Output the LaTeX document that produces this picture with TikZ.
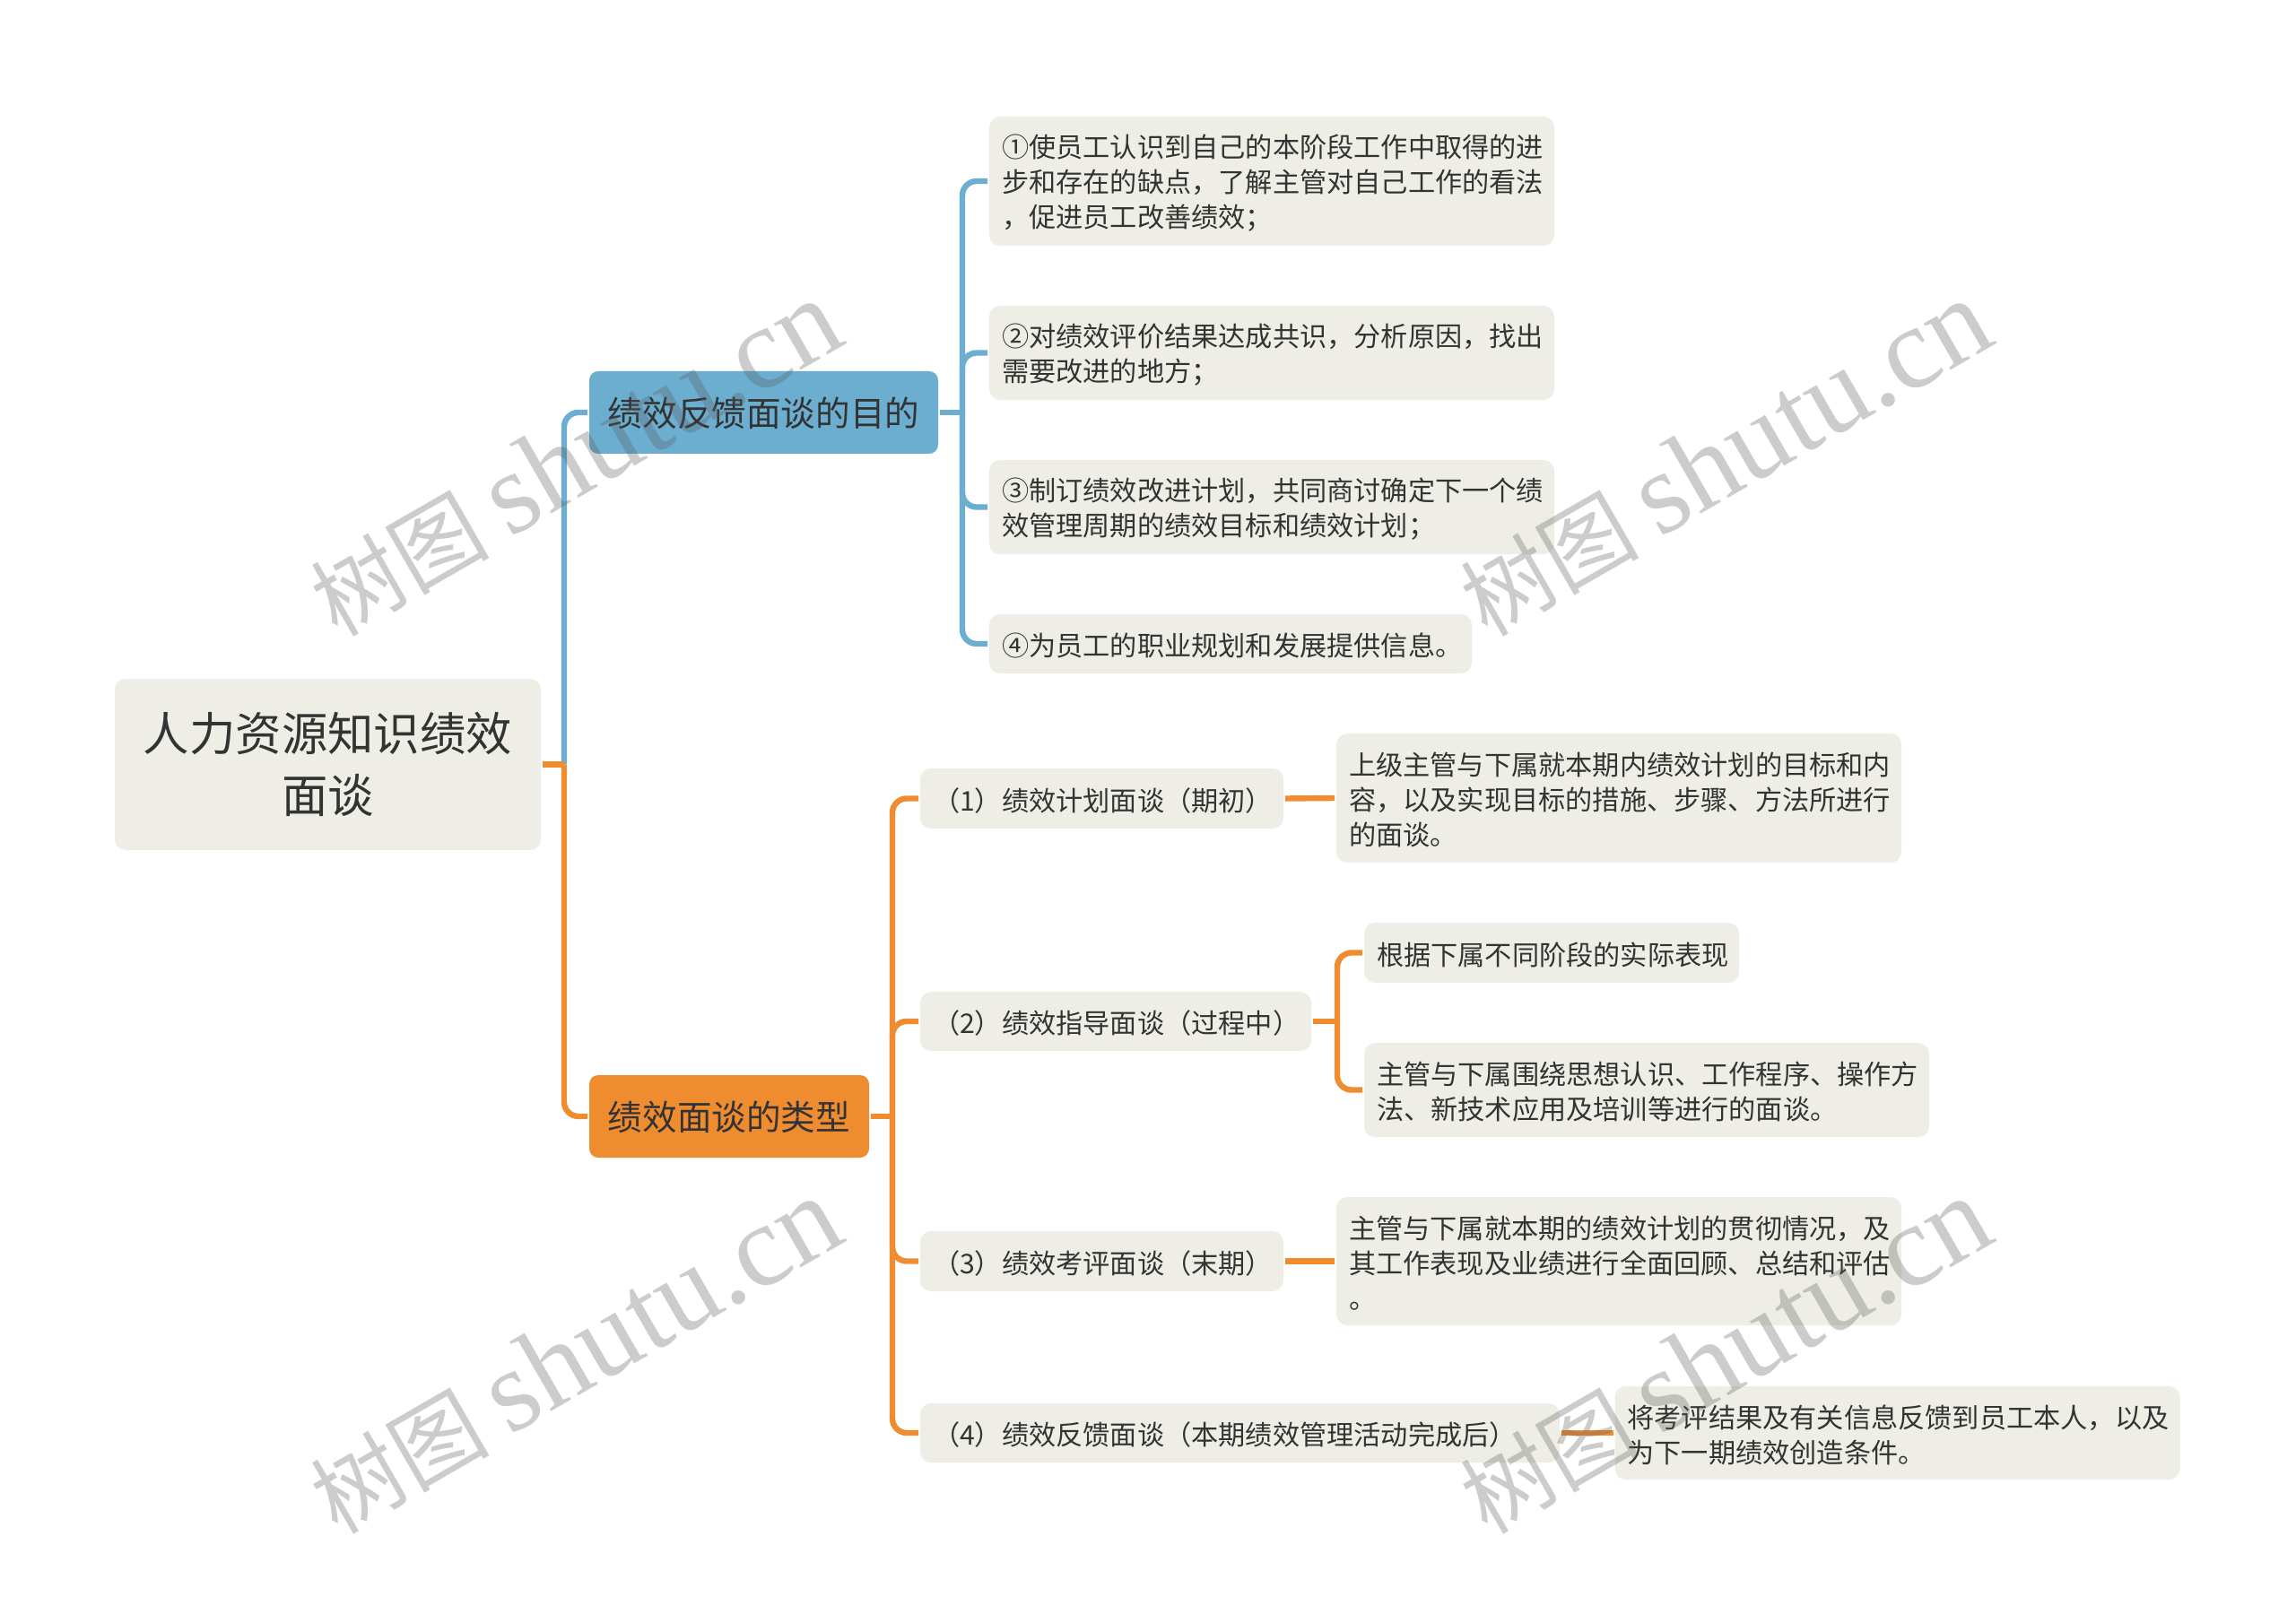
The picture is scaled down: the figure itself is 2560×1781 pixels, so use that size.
\documentclass[tikz,border=0pt]{standalone}
\usepackage{fontspec}
\setmainfont{Noto Sans CJK SC}
\newfontfamily\latinmark{Liberation Serif}
\usetikzlibrary{positioning}
\definecolor{paper}{HTML}{EEEEE6}
\definecolor{ink}{HTML}{333333}
\definecolor{bluebranch}{HTML}{6BAED0}
\definecolor{orangebranch}{HTML}{F08C30}
\tikzset{
	x=0.5pt,
	y=-0.5pt,
	sized/.style 2 args={
		text width=#1*0.5pt-14pt,
		minimum height=#2*0.5pt
	},
	box/.style={
		fill=paper,
		text=ink,
		rounded corners=6pt,
		inner xsep=7pt,
		inner ysep=0pt,
		outer sep=1pt,
		align=left
	},
	leaf/.style={
		box,
		execute at begin node={\rule{0pt}{15pt}},
		font=\fontsize{15.1pt}{19.6pt}\selectfont
	},
	topic/.style={
		box,
		align=center,
		rounded corners=5pt,
		execute at begin node={\rule{0pt}{17.5pt}},
		font=\fontsize{19.3pt}{24pt}\selectfont
	},
	centre/.style={
		box,
		align=center,
		font=\fontsize{25.7pt}{34.5pt}\selectfont
	},
	bluelink/.style={
		draw=bluebranch,
		line width=3.2pt,
		rounded corners=8pt
	},
	orangelink/.style={
		draw=orangebranch,
		line width=3.2pt,
		rounded corners=8pt
	},
	stamp/.style={
		text=black!65,
		text opacity=0.3,
		rotate=30,
		inner sep=0pt
	}
}
\begin{document}
\begin{tikzpicture}
  \path [use as bounding box, fill=white] (0,0) rectangle (2560,1781);

  \node [centre, sized={475}{191}] (root) at (365.5,852.5) {人力资源知识绩效\\面谈};
  \node [topic, sized={389}{92}, fill=bluebranch] (goal) at (851.5,460) {绩效反馈面谈的目的};
  \node [topic, sized={312}{92}, fill=orangebranch] (kind) at (813,1245) {绩效面谈的类型};

  \node [leaf, sized={630}{144}] (a1) at (1418,202) {①使员工认识到自己的本阶段工作中取得的进\\步和存在的缺点，了解主管对自己工作的看法\\，促进员工改善绩效；};
  \node [leaf, sized={630}{105}] (a2) at (1418,393.5) {②对绩效评价结果达成共识，分析原因，找出\\需要改进的地方；};
  \node [leaf, sized={630}{105}] (a3) at (1418,565.5) {③制订绩效改进计划，共同商讨确定下一个绩\\效管理周期的绩效目标和绩效计划；};
  \node [leaf, sized={538}{66}] (a4) at (1372,718) {④为员工的职业规划和发展提供信息。};

  \node [leaf, sized={405}{67}] (b1) at (1228.5,890.5) {（1）绩效计划面谈（期初）};
  \node [leaf, sized={436}{66}] (b2) at (1244,1139) {（2）绩效指导面谈（过程中）};
  \node [leaf, sized={405}{67}] (b3) at (1228.5,1406.5) {（3）绩效考评面谈（末期）};
  \node [leaf, sized={713}{66}] (b4) at (1382.5,1598) {（4）绩效反馈面谈（本期绩效管理活动完成后）};

  \node [leaf, sized={630}{144}] (c1) at (1805,890) {上级主管与下属就本期内绩效计划的目标和内\\容，以及实现目标的措施、步骤、方法所进行\\的面谈。};
  \node [leaf, sized={418}{67}] (c2) at (1730,1062.5) {根据下属不同阶段的实际表现};
  \node [leaf, sized={630}{105}] (c3) at (1836,1215.5) {主管与下属围绕思想认识、工作程序、操作方\\法、新技术应用及培训等进行的面谈。};
  \node [leaf, sized={630}{143}] (c4) at (1805,1406.5) {主管与下属就本期的绩效计划的贯彻情况，及\\其工作表现及业绩进行全面回顾、总结和评估\\。};
  \node [leaf, sized={630}{104}] (c5) at (2115.5,1598) {将考评结果及有关信息反馈到员工本人，以及\\为下一期绩效创造条件。};

  \coordinate (rootbus) at (629,852.5);
  \coordinate (goalbus) at (1073,460);
  \coordinate (kindbus) at (995,1245);
  \coordinate (b2bus) at (1491,1139);

  \draw [bluelink] (rootbus) |- (goal.west);
  \draw [orangelink] (root.east) -- (rootbus);
  \draw [orangelink] (rootbus) |- (kind.west);

  \draw [bluelink] (goal.east) -- (goalbus);
  \draw [bluelink] (goalbus) |- (a1.west);
  \draw [bluelink] (goalbus) |- (a2.west);
  \draw [bluelink] (goalbus) |- (a3.west);
  \draw [bluelink] (goalbus) |- (a4.west);

  \draw [orangelink] (kind.east) -- (kindbus);
  \draw [orangelink] (kindbus) |- (b1.west);
  \draw [orangelink] (kindbus) |- (b2.west);
  \draw [orangelink] (kindbus) |- (b3.west);
  \draw [orangelink] (kindbus) |- (b4.west);

  \draw [orangelink] (b1.east) -- (c1.west);
  \draw [orangelink] (b2.east) -- (b2bus);
  \draw [orangelink] (b2bus) |- (c2.west);
  \draw [orangelink] (b2bus) |- (c3.west);
  \draw [orangelink] (b3.east) -- (c4.west);
  \draw [orangelink] (b4.east) -- (c5.west);

  \foreach \i/\x/\y in {1/641/511,2/1923/511,3/641/1512,4/1923/1512}
    \node [stamp] (mark\i) at (\x,\y) {\fontsize{50pt}{60pt}\selectfont 树图 \latinmark\fontsize{65pt}{70pt}\selectfont shutu.cn};
\end{tikzpicture}
\end{document}
